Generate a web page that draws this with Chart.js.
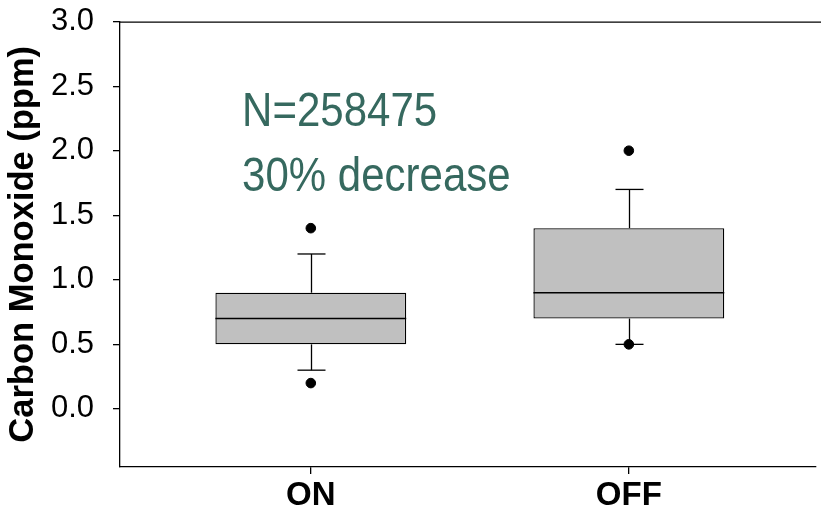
<!DOCTYPE html>
<html>
<head>
<meta charset="utf-8">
<script src="https://cdn.jsdelivr.net/npm/chart.js@4.4.1/dist/chart.umd.min.js"></script>
<style>
  html, body { margin: 0; padding: 0; background: #fff; overflow: hidden; }
  #wrap { width: 821px; height: 527px; margin-top: -16px; }
</style>
</head>
<body>
<div id="wrap"><canvas id="chart"></canvas></div>
<script>
// box plot values
const groups = ['ON', 'OFF'];
const groupPos = [1, 2];
const q1 = [0.5, 0.7];
const q3 = [0.9, 1.4];
const medians = [0.7, 0.9];
const whiskerLow = [0.3, 0.5];
const whiskerHigh = [1.2, 1.7];
const outliers = [[0.2, 1.4], [0.5, 2.0]];
const yTicks = [0, 0.5, 1.0, 1.5, 2.0, 2.5, 3.0];
const notes = ['N=258475', '30% decrease'];

const FONT = "'Liberation Sans', Arial, sans-serif";

function line(ctx, x1, y1, x2, y2) {
  ctx.beginPath();
  ctx.moveTo(x1, y1);
  ctx.lineTo(x2, y2);
  ctx.stroke();
}

const boxParts = {
  id: 'boxParts',
  beforeDatasetsDraw(chart) {
    const { ctx, scales: { x, y }, chartArea } = chart;
    ctx.save();
    ctx.strokeStyle = '#000';
    ctx.lineWidth = 1.3;
    // frame top line
    line(ctx, chartArea.left, chartArea.top + 0.5, chart.width, chartArea.top + 0.5);
    groupPos.forEach((p, i) => {
      const cx = Math.round(x.getPixelForValue(p)) + 0.5;
      const cap = 14;
      const hi = y.getPixelForValue(whiskerHigh[i]);
      const lo = y.getPixelForValue(whiskerLow[i]);
      line(ctx, cx, y.getPixelForValue(q3[i]), cx, hi);
      line(ctx, cx - cap, hi, cx + cap, hi);
      line(ctx, cx, y.getPixelForValue(q1[i]), cx, lo);
      line(ctx, cx - cap, lo, cx + cap, lo);
    });
    ctx.restore();
  },
  afterDatasetsDraw(chart) {
    const { ctx, scales: { x, y } } = chart;
    const bars = chart.getDatasetMeta(0).data;
    ctx.save();
    ctx.strokeStyle = '#000';
    ctx.lineWidth = 1.5;
    medians.forEach((m, i) => {
      const b = bars[i];
      const py = y.getPixelForValue(m);
      line(ctx, b.x - b.width / 2, py, b.x + b.width / 2, py);
    });

    // annotation text, slightly stretched like the original
    ctx.fillStyle = '#36695f';
    ctx.font = '42px ' + FONT;
    ctx.textBaseline = 'middle';
    ctx.textAlign = 'left';
    const tx = x.getPixelForValue(0.784);
    [[notes[0], 2.294], [notes[1], 1.79]].forEach(([t, v]) => {
      const ty = y.getPixelForValue(v);
      ctx.save();
      ctx.translate(tx, ty);
      ctx.scale(1, 1.15);
      ctx.fillText(t, 0, 0);
      ctx.restore();
    });
    ctx.restore();
  }
};

new Chart(document.getElementById('chart'), {
  type: 'bar',
  data: {
    datasets: [
      {
        type: 'bar',
        data: groupPos.map((p, i) => ({ x: p, y: [q1[i], q3[i]] })),
        backgroundColor: '#c0c0c0',
        borderColor: '#000',
        borderWidth: 1.3,
        borderSkipped: false,
        barPercentage: 0.6,
        categoryPercentage: 1
      },
      {
        type: 'scatter',
        data: outliers.flatMap((vals, i) => vals.map(v => ({ x: groupPos[i], y: v }))),
        backgroundColor: '#000',
        borderColor: '#000',
        pointRadius: 4.8,
        pointHoverRadius: 4.8
      }
    ]
  },
  options: {
    responsive: true,
    maintainAspectRatio: false,
    animation: false,
    layout: { padding: { top: 6, left: 0, right: 0, bottom: 0 } },
    plugins: { legend: { display: false }, tooltip: { enabled: false } },
    scales: {
      x: {
        type: 'linear',
        offset: false,
        min: 0.4,
        max: 2.586,
        afterBuildTicks: s => { s.ticks = groupPos.map(v => ({ value: v })); },
        afterFit: s => { s.height = 44; },
        grid: { offset: false, drawOnChartArea: false, drawTicks: true, tickLength: 7, color: '#000', lineWidth: 1.3 },
        border: { display: true, color: '#000', width: 1.3 },
        ticks: {
          color: '#000',
          padding: 2,
          autoSkip: false,
          maxRotation: 0,
          font: { family: FONT, size: 33, weight: 'bold' },
          callback: (v, i) => groups[i]
        }
      },
      y: {
        min: -0.45,
        max: 3.0,
        afterBuildTicks: s => { s.ticks = yTicks.map(v => ({ value: v })); },
        afterFit: s => { s.width = 120; },
        grid: { drawOnChartArea: false, drawTicks: true, tickLength: 7, color: '#000', lineWidth: 1.3 },
        border: { display: true, color: '#000', width: 1.3 },
        ticks: {
          color: '#000',
          padding: 19,
          font: { family: FONT, size: 31 },
          callback: v => Number(v).toFixed(1)
        },
        title: {
          display: true,
          text: 'Carbon Monoxide (ppm)',
          color: '#000',
          padding: { top: 3, bottom: 0 },
          font: { family: FONT, size: 34.5, weight: 'bold' }
        }
      }
    }
  },
  plugins: [boxParts]
});
</script>
</body>
</html>
